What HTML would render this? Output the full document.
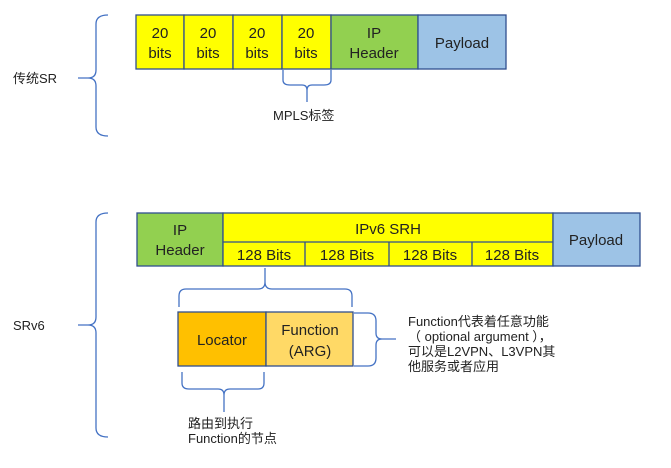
<!DOCTYPE html>
<html><head><meta charset="utf-8"><style>
html,body{margin:0;padding:0;background:#fff;}
svg{display:block;}
text{font-family:"Liberation Sans","Noto Sans CJK SC",sans-serif;fill:#222;}
</style></head><body>
<svg width="671" height="468" viewBox="0 0 671 468" xmlns="http://www.w3.org/2000/svg">
<g stroke="#2F4F8F" stroke-width="1.3">
<rect x="136" y="15" width="48" height="54" fill="#FFFF00"/>
<rect x="184" y="15" width="49" height="54" fill="#FFFF00"/>
<rect x="233" y="15" width="49" height="54" fill="#FFFF00"/>
<rect x="282" y="15" width="49" height="54" fill="#FFFF00"/>
<rect x="331" y="15" width="87" height="54" fill="#92D050"/>
<rect x="418" y="15" width="88" height="54" fill="#9DC3E6"/>
<rect x="137" y="213" width="86" height="53" fill="#92D050"/>
<rect x="223" y="213" width="330" height="53" fill="#FFFF00"/>
<line x1="223" y1="242" x2="553" y2="242"/>
<line x1="305" y1="242" x2="305" y2="266"/>
<line x1="389" y1="242" x2="389" y2="266"/>
<line x1="472" y1="242" x2="472" y2="266"/>
<rect x="553" y="213" width="87" height="53" fill="#9DC3E6"/>
<rect x="178" y="312" width="88" height="54" fill="#FFC000"/>
<rect x="266" y="312" width="87" height="54" fill="#FFD966"/>
</g>
<g stroke="#4472C4" stroke-width="1.3" fill="none">
<path d="M108 15 Q96 15 96 24 L96 70 Q96 78 88 78 L78 78 M88 78 Q96 78 96 86 L96 127 Q96 136 108 136"/>
<path d="M108 213 Q96 213 96 222 L96 317 Q96 325 88 325 L78 325 M88 325 Q96 325 96 333 L96 428 Q96 437 108 437"/>
<path d="M283 70 L283 80 Q283 85 290 85 L302 85 Q307 85 307 90 L307 102 M307 90 Q307 85 312 85 L324 85 Q331 85 331 80 L331 70"/>
<path d="M179 307 L179 296 Q179 289 186 289 L258 289 Q265 289 265 282 L265 268 M265 282 Q265 289 272 289 L345 289 Q352 289 352 296 L352 307"/>
<path d="M354 313 L368 313 Q376 313 376 321 L376 333 Q376 339 382 339 L396 339 M382 339 Q376 339 376 345 L376 358 Q376 366 368 366 L354 366"/>
<path d="M182 372 L182 383 Q182 389 189 389 L218 389 Q224 389 224 395 L224 412 M224 395 Q224 389 230 389 L258 389 Q264 389 264 383 L264 372"/>
</g>
<g font-size="15" text-anchor="middle">
<text x="160" y="38">20</text><text x="160" y="58">bits</text>
<text x="208" y="38">20</text><text x="208" y="58">bits</text>
<text x="257" y="38">20</text><text x="257" y="58">bits</text>
<text x="306" y="38">20</text><text x="306" y="58">bits</text>
<text x="374" y="38">IP</text><text x="374" y="58">Header</text>
<text x="462" y="48">Payload</text>
<text x="180" y="235">IP</text><text x="180" y="255">Header</text>
<text x="388" y="234">IPv6 SRH</text>
<text x="264" y="260">128 Bits</text>
<text x="347" y="260">128 Bits</text>
<text x="430" y="260">128 Bits</text>
<text x="512" y="260">128 Bits</text>
<text x="596" y="245">Payload</text>
<text x="222" y="345">Locator</text>
<text x="310" y="335">Function</text>
<text x="310" y="356">(ARG)</text>
</g>
<g font-size="13">
<text x="13" y="83">传统SR</text>
<text x="13" y="330">SRv6</text>
<text x="273" y="120">MPLS标签</text>
<text x="408" y="326">Function代表着任意功能</text>
<text x="408" y="341">（ optional argument ），</text>
<text x="408" y="356">可以是L2VPN、L3VPN其</text>
<text x="408" y="371">他服务或者应用</text>
<text x="188" y="428">路由到执行</text>
<text x="188" y="443">Function的节点</text>
</g>
</svg>
</body></html>
